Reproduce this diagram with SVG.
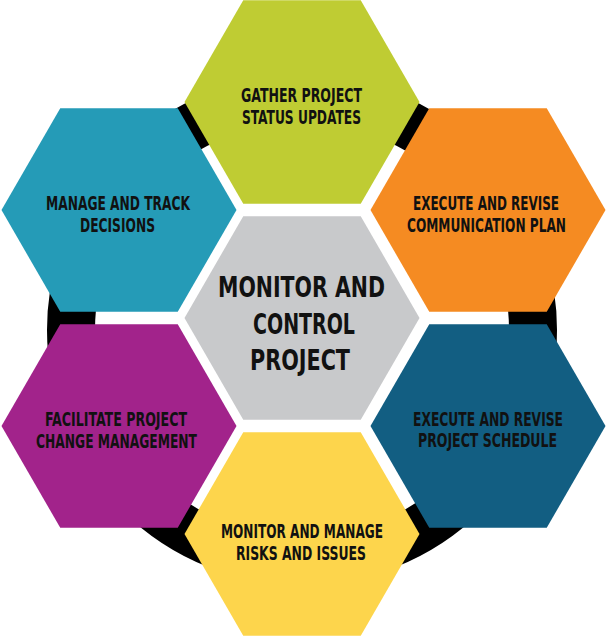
<svg xmlns="http://www.w3.org/2000/svg" xmlns:xlink="http://www.w3.org/1999/xlink" width="606" height="637" viewBox="0 0 606 637">
<style>
.t{font-family:"Liberation Sans Narrow","DejaVu Sans Condensed","Liberation Sans",sans-serif;font-weight:bold;font-size:19px;fill:#111;text-anchor:middle}
.c{font-size:28px}
</style>
<defs>
<path id="hex" d="M-117.5,0 L-58.75,-101.8 L58.75,-101.8 L117.5,0 L58.75,101.8 L-58.75,101.8 Z"/>
</defs>
<rect width="606" height="637" fill="#fff"/>
<g id="connectors">
<circle cx="302" cy="330" r="231" fill="none" stroke="#000" stroke-width="48"/>
</g>
<g id="center">
<use xlink:href="#hex" x="302" y="318" fill="#c8c9cb"/>
<text class="t c" x="301.5" y="297" textLength="167" lengthAdjust="spacingAndGlyphs">MONITOR AND</text>
<text class="t c" x="304" y="334" textLength="102" lengthAdjust="spacingAndGlyphs">CONTROL</text>
<text class="t c" x="300" y="370" textLength="100" lengthAdjust="spacingAndGlyphs">PROJECT</text>
</g>
<g id="gather">
<use xlink:href="#hex" x="302" y="102" fill="#bfcc33"/>
<text class="t" x="301.5" y="102" textLength="121" lengthAdjust="spacingAndGlyphs">GATHER PROJECT</text>
<text class="t" x="301.5" y="124" textLength="119" lengthAdjust="spacingAndGlyphs">STATUS UPDATES</text>
</g>
<g id="decisions">
<use xlink:href="#hex" x="119" y="210" fill="#259bb7"/>
<text class="t" x="118" y="210" textLength="144" lengthAdjust="spacingAndGlyphs">MANAGE AND TRACK</text>
<text class="t" x="117.5" y="232" textLength="75" lengthAdjust="spacingAndGlyphs">DECISIONS</text>
</g>
<g id="communication">
<use xlink:href="#hex" x="488" y="210" fill="#f58b22"/>
<text class="t" x="486" y="210" textLength="146" lengthAdjust="spacingAndGlyphs">EXECUTE AND REVISE</text>
<text class="t" x="486.5" y="232" textLength="159" lengthAdjust="spacingAndGlyphs">COMMUNICATION PLAN</text>
</g>
<g id="change">
<use xlink:href="#hex" x="119" y="426" fill="#a2238b"/>
<text class="t" x="116" y="426" textLength="142" lengthAdjust="spacingAndGlyphs">FACILITATE PROJECT</text>
<text class="t" x="116.5" y="448" textLength="161" lengthAdjust="spacingAndGlyphs">CHANGE MANAGEMENT</text>
</g>
<g id="schedule">
<use xlink:href="#hex" x="488" y="426" fill="#125e82"/>
<text class="t" x="488" y="426" textLength="150" lengthAdjust="spacingAndGlyphs">EXECUTE AND REVISE</text>
<text class="t" x="487.5" y="447" textLength="139" lengthAdjust="spacingAndGlyphs">PROJECT SCHEDULE</text>
</g>
<g id="risks">
<use xlink:href="#hex" x="302" y="534" fill="#fdd54c"/>
<text class="t" x="302" y="538" textLength="162" lengthAdjust="spacingAndGlyphs">MONITOR AND MANAGE</text>
<text class="t" x="301" y="560" textLength="130" lengthAdjust="spacingAndGlyphs">RISKS AND ISSUES</text>
</g>
</svg>
